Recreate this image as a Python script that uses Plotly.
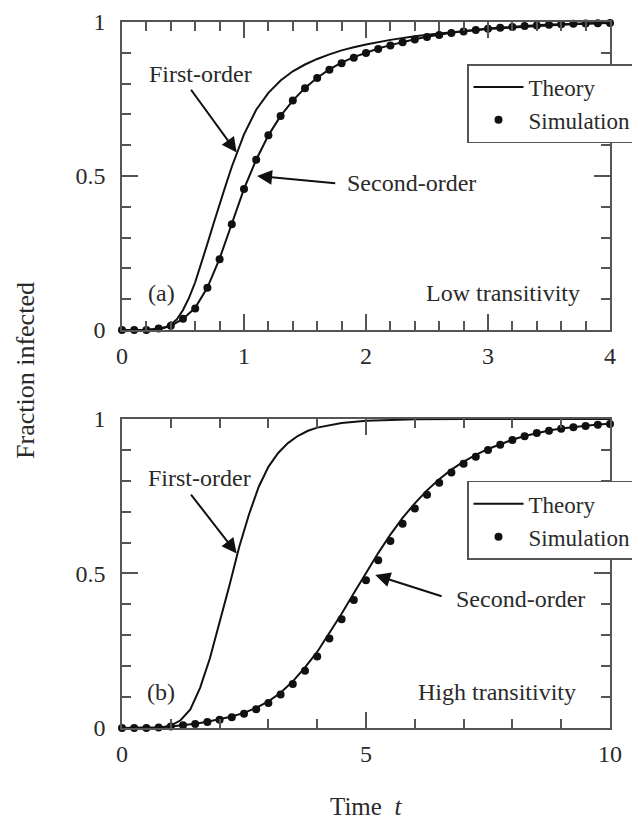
import plotly.graph_objects as go

# panel (a): low transitivity
t_a = [0.0, 0.1, 0.2, 0.3, 0.4, 0.5, 0.6, 0.7, 0.8, 0.9, 1.0, 1.1, 1.2, 1.3, 1.4,
       1.5, 1.6, 1.7, 1.8, 1.9, 2.0, 2.1, 2.2, 2.3, 2.4, 2.5, 2.6, 2.7, 2.8, 2.9,
       3.0, 3.1, 3.2, 3.3, 3.4, 3.5, 3.6, 3.7, 3.8, 3.9, 4.0]
sim_a = [0.0, 0.0, 0.0, 0.005, 0.014, 0.037, 0.07, 0.137, 0.23, 0.343, 0.458, 0.553,
         0.632, 0.695, 0.745, 0.785, 0.818, 0.845, 0.866, 0.884, 0.899, 0.912, 0.924,
         0.934, 0.943, 0.951, 0.958, 0.964, 0.969, 0.974, 0.978, 0.981, 0.984, 0.987,
         0.989, 0.991, 0.993, 0.994, 0.995, 0.996, 0.997]
second_a = [0.0, 0.0, 0.0, 0.004, 0.014, 0.036, 0.072, 0.138, 0.232, 0.345, 0.458,
            0.553, 0.632, 0.695, 0.745, 0.786, 0.819, 0.846, 0.868, 0.886, 0.901,
            0.914, 0.925, 0.935, 0.944, 0.952, 0.959, 0.965, 0.970, 0.975, 0.979,
            0.982, 0.985, 0.988, 0.990, 0.992, 0.993, 0.995, 0.996, 0.997, 0.998]
t_first_a = [0.0, 0.1, 0.2, 0.3, 0.35, 0.4, 0.45, 0.5, 0.55, 0.6, 0.65, 0.7, 0.75, 0.8,
             0.85, 0.9, 0.95, 1.0, 1.1, 1.2, 1.3, 1.4, 1.5, 1.6, 1.7, 1.8, 1.9, 2.0,
             2.2, 2.4, 2.6, 2.8, 3.0, 3.2, 3.4, 3.6, 3.8, 4.0]
first_a = [0.0, 0.0, 0.0005, 0.003, 0.007, 0.018, 0.035, 0.065, 0.105, 0.155, 0.215,
           0.28, 0.345, 0.41, 0.47, 0.53, 0.585, 0.635, 0.715, 0.77, 0.81, 0.84, 0.862,
           0.88, 0.895, 0.908, 0.918, 0.927, 0.942, 0.954, 0.963, 0.971, 0.977, 0.982,
           0.987, 0.991, 0.994, 0.997]

# panel (b): high transitivity
t_b = [0.0, 0.25, 0.5, 0.75, 1.0, 1.25, 1.5, 1.75, 2.0, 2.25, 2.5, 2.75, 3.0, 3.25,
       3.5, 3.75, 4.0, 4.25, 4.5, 4.75, 5.0, 5.25, 5.5, 5.75, 6.0, 6.25, 6.5, 6.75,
       7.0, 7.25, 7.5, 7.75, 8.0, 8.25, 8.5, 8.75, 9.0, 9.25, 9.5, 9.75, 10.0]
sim_b = [0.0, 0.0, 0.0, 0.002, 0.005, 0.009, 0.013, 0.019, 0.027, 0.035, 0.046, 0.061,
         0.081, 0.108, 0.142, 0.185, 0.231, 0.29, 0.352, 0.414, 0.478, 0.543, 0.605,
         0.661, 0.71, 0.755, 0.794, 0.827, 0.855, 0.878, 0.9, 0.917, 0.932, 0.944,
         0.955, 0.962, 0.968, 0.973, 0.977, 0.981, 0.984]
second_b = [0.0, 0.0, 0.001, 0.002, 0.005, 0.009, 0.014, 0.02, 0.028, 0.037, 0.049,
            0.065, 0.086, 0.114, 0.151, 0.196, 0.246, 0.306, 0.37, 0.436, 0.502,
            0.566, 0.626, 0.68, 0.727, 0.769, 0.805, 0.836, 0.862, 0.884, 0.903,
            0.919, 0.933, 0.945, 0.955, 0.963, 0.969, 0.974, 0.978, 0.982, 0.985]
t_first_b = [0.0, 0.5, 0.8, 1.0, 1.2, 1.4, 1.6, 1.8, 2.0, 2.2, 2.4, 2.6, 2.8, 3.0, 3.2,
             3.4, 3.6, 3.8, 4.0, 4.5, 5.0, 5.5, 6.0, 7.0, 8.0, 10.0]
first_b = [0.0, 0.0, 0.002, 0.008, 0.025, 0.06, 0.13, 0.225, 0.34, 0.46, 0.585, 0.69,
           0.78, 0.845, 0.89, 0.922, 0.945, 0.961, 0.972, 0.987, 0.994, 0.997, 0.999,
           1.0, 1.0, 1.0]

FONT = "Liberation Serif"
INK = "#111111"
FRAME = "#555555"
TXT = "#2a2a2a"

fig = go.Figure()

line_style = dict(color=INK, width=2)
dot_style = dict(color=INK, size=8, symbol="circle")

fig.add_trace(go.Scatter(x=t_first_a, y=first_a, mode="lines", line=line_style,
                         showlegend=False, xaxis="x", yaxis="y", cliponaxis=False))
fig.add_trace(go.Scatter(x=t_a, y=second_a, mode="lines", line=line_style, name="Theory",
                         legend="legend", xaxis="x", yaxis="y", cliponaxis=False))
fig.add_trace(go.Scatter(x=t_a, y=sim_a, mode="markers", marker=dot_style, name="Simulation",
                         legend="legend", xaxis="x", yaxis="y", cliponaxis=False))

fig.add_trace(go.Scatter(x=t_first_b, y=first_b, mode="lines", line=line_style,
                         showlegend=False, xaxis="x2", yaxis="y2", cliponaxis=False))
fig.add_trace(go.Scatter(x=t_b, y=second_b, mode="lines", line=line_style, name="Theory",
                         legend="legend2", xaxis="x2", yaxis="y2", cliponaxis=False))
fig.add_trace(go.Scatter(x=t_b, y=sim_b, mode="markers", marker=dot_style, name="Simulation",
                         legend="legend2", xaxis="x2", yaxis="y2", cliponaxis=False))


def axis(rng, dtick, minor_dtick, domain, anchor, standoff):
    return dict(range=rng, dtick=dtick, tick0=0, domain=domain, anchor=anchor,
                showgrid=False, zeroline=False, showline=True, linecolor=FRAME, linewidth=1.5,
                mirror="allticks", ticks="inside", ticklen=16, tickwidth=1.5, tickcolor=FRAME,
                minor=dict(dtick=minor_dtick, tick0=0, ticks="inside", ticklen=9,
                           tickwidth=1.5, tickcolor=FRAME, showgrid=False),
                ticklabelstandoff=standoff,
                tickfont=dict(family=FONT, size=24, color=TXT), fixedrange=True)


top = [0.5637, 1.0]
bot = [0.0, 0.4377]

legend_style = dict(x=0.707, xanchor="left", yanchor="top", bgcolor="white",
                    bordercolor=FRAME, borderwidth=1.5, itemwidth=50,
                    font=dict(family=FONT, size=23, color=TXT), tracegroupgap=0)

ann_font = dict(family=FONT, size=24, color=TXT)
arr = dict(text="", showarrow=True, arrowhead=2, arrowsize=1.5, arrowwidth=2, arrowcolor=INK)

annotations = [
    dict(x=0.64, y=0.83, xref="x", yref="y", text="First-order", showarrow=False, font=ann_font),
    dict(x=0.94, y=0.576, ax=0.557, ay=0.785, xref="x", yref="y", axref="x", ayref="y", **arr),
    dict(x=2.37, y=0.477, xref="x", yref="y", text="Second-order", showarrow=False, font=ann_font),
    dict(x=1.107, y=0.5, ax=1.76, ay=0.476, xref="x", yref="y", axref="x", ayref="y", **arr),
    dict(x=0.32, y=0.12, xref="x", yref="y", text="(a)", showarrow=False, font=ann_font),
    dict(x=3.12, y=0.12, xref="x", yref="y", text="Low transitivity", showarrow=False, font=ann_font),

    dict(x=1.58, y=0.808, xref="x2", yref="y2", text="First-order", showarrow=False, font=ann_font),
    dict(x=2.35, y=0.565, ax=1.39, ay=0.76, xref="x2", yref="y2", axref="x2", ayref="y2", **arr),
    dict(x=8.17, y=0.416, xref="x2", yref="y2", text="Second-order", showarrow=False, font=ann_font),
    dict(x=5.19, y=0.495, ax=6.58, ay=0.425, xref="x2", yref="y2", axref="x2", ayref="y2", **arr),
    dict(x=0.80, y=0.117, xref="x2", yref="y2", text="(b)", showarrow=False, font=ann_font),
    dict(x=7.69, y=0.117, xref="x2", yref="y2", text="High transitivity", showarrow=False, font=ann_font),

    dict(x=-0.199, y=0.507, xref="paper", yref="paper", xanchor="center", yanchor="middle",
         text="Fraction infected", textangle=-90, showarrow=False,
         font=dict(family=FONT, size=26, color=TXT)),
    dict(x=0.5, y=-0.1105, xref="paper", yref="paper", xanchor="center", yanchor="middle",
         text="Time  <i>t</i>", showarrow=False, font=dict(family=FONT, size=25, color=TXT)),
]

# page body has an 8px margin, so the figure is drawn 8px right and down
fig.update_layout(
    width=640, height=821,
    margin=dict(l=114, r=38, t=14, b=101, autoexpand=False),
    paper_bgcolor="white", plot_bgcolor="white",
    font=dict(family=FONT, size=24, color=TXT),
    xaxis=axis([0, 4], 1, 0.2, [0, 1], "y", 3),
    yaxis=axis([0, 1], 0.5, 0.1, top, "x", 10),
    xaxis2=axis([0, 10], 5, 1, [0, 1], "y2", 3),
    yaxis2=axis([0, 1], 0.5, 0.1, bot, "x2", 10),
    legend=dict(y=0.9405, **legend_style),
    legend2=dict(y=0.35, **legend_style),
    annotations=annotations,
)

fig.write_html("out.html")
